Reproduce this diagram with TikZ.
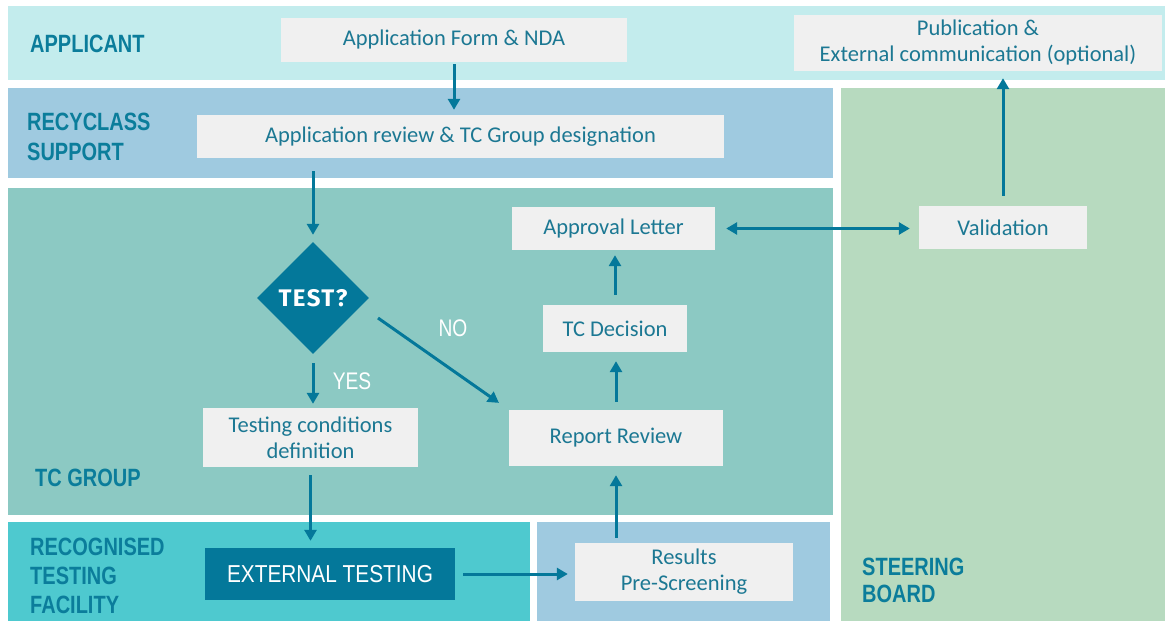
\documentclass[tikz,border=0pt]{standalone}
\usepackage{fontspec}
\usetikzlibrary{arrows.meta,shapes.geometric,calc}
\newfontfamily\boxfont{Carlito}
\newfontfamily\lblfont{Liberation Sans}
\newfontfamily\boldfont[LetterSpace=6]{Fira Sans}
\definecolor{bandA}{HTML}{C3ECED}
\definecolor{bandR}{HTML}{9FCAE0}
\definecolor{bandT}{HTML}{8CC9C3}
\definecolor{bandF}{HTML}{4EC9CF}
\definecolor{bandS}{HTML}{B7DABF}
\definecolor{boxgray}{HTML}{F0F0F0}
\definecolor{txt}{HTML}{1C7893}
\definecolor{lbl}{HTML}{0B7D9B}
\definecolor{dark}{HTML}{04789A}
\newcommand{\cond}[1]{\scalebox{0.8}[1]{#1}}
\begin{document}
\begin{tikzpicture}[x=1pt,y=-1pt,
  stepbox/.style={fill=boxgray, text=txt, font=\boxfont\fontsize{22.5}{26}\selectfont, align=center, inner sep=0pt},
  lanelabel/.style={anchor=west, text=lbl, font=\lblfont\bfseries\fontsize{25}{29}\selectfont, align=left, inner sep=0pt},
  yn/.style={text=white, font=\lblfont\fontsize{24}{28}\selectfont, inner sep=0pt},
  arr/.style={draw=dark, line width=3pt, -{Triangle[length=11pt,width=12pt]}},
  darr/.style={draw=dark, line width=3pt, {Triangle[length=11pt,width=12pt]}-{Triangle[length=11pt,width=12pt]}}
]
\useasboundingbox (0,0) rectangle (1165,621);
\fill[white] (0,0) rectangle (1165,621);
% bands
\fill[bandA] (8,6) rectangle (1165,80);
\fill[bandR] (8,88) rectangle (833,178);
\fill[bandS] (841,88) rectangle (1165,621);
\fill[bandT] (8,188) rectangle (833,515);
\fill[bandF] (8,522) rectangle (530,621);
\fill[bandR] (537,522) rectangle (830,621);
% lane labels
\node[lanelabel] (lA) at (30,44) {\cond{APPLICANT}};
\node[lanelabel] (lR) at (27,136.5) {\cond{RECYCLASS}\\[1pt]\cond{SUPPORT}};
\node[lanelabel] (lT) at (35,478) {\cond{TC GROUP}};
\node[lanelabel] (lF) at (30,575.5) {\cond{RECOGNISED}\\\cond{TESTING}\\\cond{FACILITY}};
\node[lanelabel] (lS) at (862,580.5) {\cond{STEERING}\\[-2pt]\cond{BOARD}};
% steps
\node[stepbox, minimum width=346pt, minimum height=44pt] (form) at (454,40) {Application Form \& NDA};
\node[stepbox, minimum width=368pt, minimum height=56pt] (pub) at (978,43) {Publication \&\\External communication (optional)};
\node[stepbox, minimum width=527pt, minimum height=43pt] (review) at (460.5,136.5) {Application review \& TC Group designation};
\node[stepbox, minimum width=203pt, minimum height=43pt] (approval) at (613.5,228.5) {Approval Letter};
\node[stepbox, minimum width=168pt, minimum height=43pt] (valid) at (1003,227.5) {Validation};
\node[stepbox, minimum width=144pt, minimum height=47pt] (decision) at (615,328.5) {TC Decision};
\node[stepbox, minimum width=214pt, minimum height=56pt] (report) at (616,438) {Report Review};
\node[stepbox, minimum width=215pt, minimum height=59pt] (testcond) at (310.5,437.5) {Testing conditions\\definition};
\node[fill=dark, text=white, font=\lblfont\fontsize{24.5}{28}\selectfont, minimum width=250pt, minimum height=52pt, inner sep=0pt] (ext) at (330,574) {\scalebox{0.85}[1]{EXTERNAL TESTING}};
\node[stepbox, minimum width=218pt, minimum height=58pt] (results) at (684,572) {Results\\Pre-Screening};
\node[diamond, aspect=1, fill=dark, minimum width=112pt, minimum height=112pt, inner sep=0pt, text=white, font=\boldfont\bfseries\fontsize{24}{26}\selectfont] (test) at (313,298) {TEST?};
% yes/no labels
\node[yn] (yes) at (352,381) {\cond{YES}};
\node[yn] (no) at (453,328) {\cond{NO}};
\coordinate (nostart) at (378,318);
% connectors
\draw[arr, shorten <=2pt, shorten >=5pt] (form.south) -- (form.south |- review.north);
\draw[arr, shorten <=13pt, shorten >=7pt] (test.north |- review.south) -- (test.north);
\draw[arr, shorten <=9pt, shorten >=4pt] (test.south) -- (test.south |- testcond.north);
\draw[arr, shorten >=12pt] (nostart) -- (report.north west);
\draw[arr, shorten <=8pt, shorten >=7pt] (testcond.south) -- (testcond.south |- ext.north);
\draw[arr, shorten <=8pt, shorten >=7pt] (ext.east) -- (ext.east -| results.west);
\draw[arr, shorten <=5pt, shorten >=9pt] (report.south |- results.north) -- (report.south);
\draw[arr, shorten <=8pt, shorten >=9pt] (report.north) -- (report.north |- decision.south);
\draw[arr, shorten <=10pt, shorten >=5pt] (decision.north) -- (decision.north |- approval.south);
\draw[darr, shorten <=11pt, shorten >=9pt] (approval.east) -- (approval.east -| valid.west);
\draw[arr, shorten <=10pt, shorten >=7pt] (valid.north) -- (valid.north |- pub.south);
\end{tikzpicture}
\end{document}
